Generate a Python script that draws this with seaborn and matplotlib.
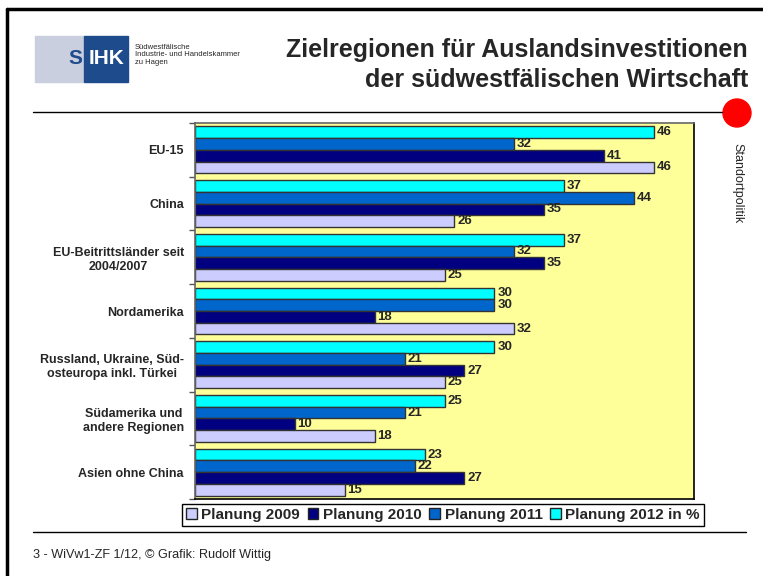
import matplotlib
matplotlib.use("Agg")
import matplotlib.pyplot as plt
import matplotlib.patches as mpatches
from matplotlib.lines import Line2D
import numpy as np
import pandas as pd
import seaborn as sns

# Data (percent of companies)
regions = ["EU-15", "China", "EU-Beitrittsländer seit\n2004/2007", "Nordamerika",
           "Russland, Ukraine, Süd-\nosteuropa inkl. Türkei",
           "Südamerika und\nandere Regionen", "Asien ohne China"]
plan_2009 = [46, 26, 25, 32, 25, 18, 15]
plan_2010 = [41, 35, 35, 18, 27, 10, 27]
plan_2011 = [32, 44, 32, 30, 21, 21, 22]
plan_2012 = [46, 37, 37, 30, 30, 25, 23]
series = ["Planung 2009", "Planung 2010", "Planung 2011", "Planung 2012 in %"]
colors = ["#CCCCFF", "#000080", "#0066CC", "#00FFFF"]

df = pd.DataFrame({"region": regions, series[0]: plan_2009, series[1]: plan_2010,
                   series[2]: plan_2011, series[3]: plan_2012})
df = df.melt(id_vars="region", var_name="series", value_name="value")

W, H = 763, 576
sns.set_style("white")
plt.rcParams["font.family"] = ["Liberation Sans", "DejaVu Sans"]

fig = plt.figure(figsize=(W / 100, H / 100), dpi=100)

def fx(x):
    return x / W

def fy(y):
    return 1 - y / H

# plot area
ax = fig.add_axes([fx(195), fy(499), fx(694) - fx(195), fy(123) - fy(499)])
ax.set_facecolor("#FFFF99")
sns.barplot(data=df, y="region", x="value", hue="series", hue_order=series[::-1],
            palette=dict(zip(series, colors)), saturation=1, orient="h", width=0.87,
            edgecolor="#333333", linewidth=1, ax=ax, legend=False)
for c in ax.containers:
    ax.bar_label(c, fmt="%d", padding=2, fontsize=9.5, fontweight="bold")

ax.set_xlim(0, 50)
ax.set_xticks([])
ax.set_xlabel("")
ax.set_ylabel("")
ax.set_yticks(range(len(regions)))
ax.set_yticklabels(regions, fontsize=9, fontweight="bold", multialignment="center")
ax.set_yticks(np.arange(-0.5, len(regions), 1), minor=True)
ax.tick_params(axis="y", which="major", length=0, pad=8)
ax.tick_params(axis="y", which="minor", length=4, width=1, color="#555555", left=True)
for s in ["top", "left"]:
    ax.spines[s].set_color("#666666")
for s in ["right", "bottom"]:
    ax.spines[s].set_color("black")
for s in ax.spines.values():
    s.set_linewidth(1.2)
    s.set_visible(True)

# legend
handles = [mpatches.Patch(facecolor=c, edgecolor="#222222", label=s) for s, c in zip(series, colors)]
leg = fig.legend(handles=handles, ncol=4, loc="center", bbox_to_anchor=(fx(443), fy(515)),
                 prop={"weight": "bold", "size": 11}, frameon=True, fancybox=False,
                 edgecolor="black", framealpha=1, borderpad=0.25, handlelength=0.7,
                 handleheight=0.7, handletextpad=0.3, columnspacing=0.5, borderaxespad=0)
leg.get_frame().set_linewidth(1)

# page frame and rules
fig.add_artist(Line2D([fx(7), 1], [fy(9), fy(9)], color="black", lw=2.5))
fig.add_artist(Line2D([fx(7), fx(7)], [0, fy(9)], color="black", lw=2.5))
fig.add_artist(Line2D([fx(33), fx(722)], [fy(112), fy(112)], color="black", lw=1))
fig.add_artist(Line2D([fx(33), fx(746)], [fy(532), fy(532)], color="black", lw=1))
fig.add_artist(mpatches.Ellipse((fx(737), fy(113)), fx(28), 28 / H, color="red",
                                transform=fig.transFigure))

# logo
fig.add_artist(mpatches.Rectangle((fx(35), fy(82)), fx(49), 46 / H, color="#C9CFDF",
                                  transform=fig.transFigure))
fig.add_artist(mpatches.Rectangle((fx(84), fy(82)), fx(44), 46 / H, color="#1D4B8C",
                                  transform=fig.transFigure))
fig.text(fx(75), fy(59), "S", color="#1D4B8C", fontsize=15, fontweight="bold", ha="center", va="center")
fig.text(fx(106), fy(59), "IHK", color="white", fontsize=15, fontweight="bold", ha="center", va="center")
fig.text(fx(135), fy(55), "Südwestfälische\nIndustrie- und Handelskammer\nzu Hagen", fontsize=5.5,
         ha="left", va="center", linespacing=1.1)

# titles
fig.text(fx(748), fy(50), "Zielregionen für Auslandsinvestitionen", fontsize=18,
         fontweight="bold", ha="right", va="center")
fig.text(fx(748), fy(80), "der südwestfälischen Wirtschaft", fontsize=18,
         fontweight="bold", ha="right", va="center")
fig.text(fx(737), fy(183), "Standortpolitik", fontsize=9, rotation=-90, ha="center", va="center")
fig.text(fx(33), fy(555), "3 - WiVw1-ZF 1/12, © Grafik: Rudolf Wittig", fontsize=9.1,
         ha="left", va="center")

fig.savefig("out.png", dpi=100)
